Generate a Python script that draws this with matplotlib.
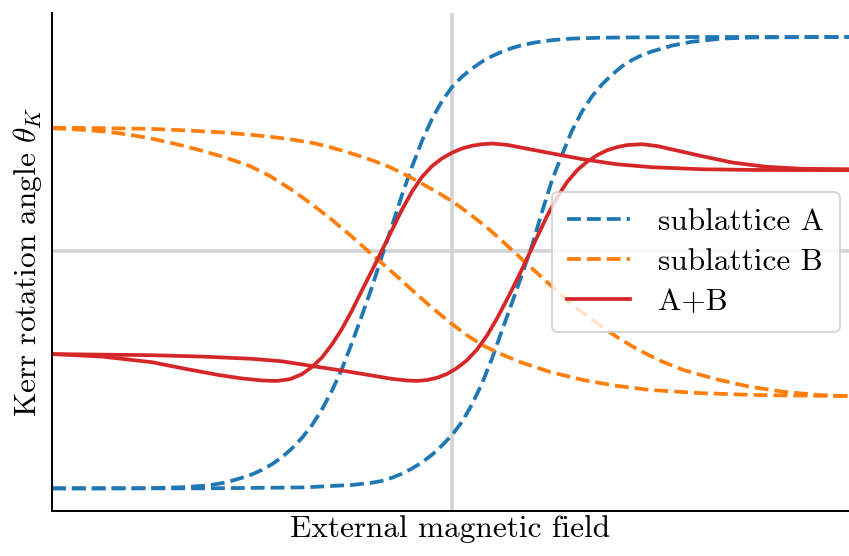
import matplotlib
matplotlib.use("Agg")
import matplotlib.pyplot as plt

plt.rcParams["font.family"] = ["cmr10", "DejaVu Serif"]
plt.rcParams["mathtext.fontset"] = "cm"
plt.rcParams["axes.formatter.use_mathtext"] = True

# Sublattice A, down-sweep branch (switches at negative field)
xA_down = [-4.0, -3.5, -3.0, -2.7, -2.5, -2.4, -2.3, -2.2, -2.1, -2.0,
           -1.9, -1.8, -1.7, -1.6, -1.5, -1.4, -1.3, -1.2, -1.1, -1.0,
           -0.9, -0.8, -0.7, -0.6, -0.5, -0.4, -0.3, -0.2, -0.1, 0.0,
           0.1, 0.2, 0.3, 0.4, 0.5, 0.6, 0.7, 0.85, 1.0, 1.2,
           1.5, 2.0, 2.5, 3.97]
yA_down = [-1.000, -1.000, -0.999, -0.995, -0.989, -0.984, -0.977, -0.966, -0.953, -0.938,
           -0.918, -0.893, -0.862, -0.823, -0.776, -0.720, -0.650, -0.567, -0.470, -0.355,
           -0.233, -0.108, 0.030, 0.163, 0.300, 0.425, 0.540, 0.637, 0.716, 0.778,
           0.824, 0.860, 0.891, 0.915, 0.935, 0.951, 0.964, 0.977, 0.986, 0.993,
           0.997, 0.999, 1.000, 1.000]

# Sublattice A, up-sweep branch (switches at positive field)
xA_up = [-4.0, -2.5, -1.5, -1.0, -0.8, -0.7, -0.6, -0.5, -0.4, -0.3,
         -0.2, -0.1, 0.0, 0.1, 0.2, 0.3, 0.4, 0.5, 0.6, 0.7,
         0.8, 0.9, 1.0, 1.1, 1.2, 1.3, 1.4, 1.5, 1.6, 1.7,
         1.8, 1.9, 2.0, 2.2, 2.4, 2.7, 3.0, 3.97]
yA_up = [-1.000, -1.000, -0.996, -0.985, -0.975, -0.967, -0.953, -0.935, -0.912, -0.885,
         -0.851, -0.810, -0.764, -0.705, -0.628, -0.535, -0.425, -0.300, -0.178, -0.052,
         0.075, 0.225, 0.365, 0.478, 0.585, 0.670, 0.737, 0.790, 0.833, 0.870,
         0.898, 0.920, 0.936, 0.962, 0.979, 0.993, 0.998, 1.000]

# Sublattice B, down-sweep branch
xB_down = [-4.00, -3.67, -3.50, -3.32, -3.20, -3.02, -2.85, -2.67, -2.50, -2.32,
           -2.20, -2.02, -1.82, -1.62, -1.42, -1.22, -1.02, -0.82, -0.62, -0.42,
           -0.22, -0.02, 0.15, 0.31, 0.48, 0.68, 0.98, 1.31, 1.65, 1.98,
           2.48, 3.08, 3.97]
yB_down = [0.596, 0.588, 0.582, 0.573, 0.565, 0.551, 0.535, 0.516, 0.496, 0.473,
           0.456, 0.428, 0.384, 0.328, 0.265, 0.197, 0.123, 0.044, -0.033, -0.113,
           -0.192, -0.265, -0.322, -0.367, -0.403, -0.440, -0.484, -0.520, -0.546, -0.564,
           -0.578, -0.587, -0.591]

# Sublattice B, up-sweep branch
xB_up = [-4.00, -3.50, -3.02, -2.70, -2.32, -2.02, -1.80, -1.62, -1.40, -1.22,
         -1.07, -0.92, -0.77, -0.62, -0.52, -0.42, -0.32, -0.22, -0.11, 0.00,
         0.09, 0.18, 0.28, 0.38, 0.48, 0.58, 0.66, 0.73, 0.88, 1.05,
         1.25, 1.45, 1.65, 1.85, 2.08, 2.31, 2.64, 2.98, 3.33, 3.68,
         3.97]
yB_up = [0.598, 0.596, 0.593, 0.587, 0.578, 0.567, 0.557, 0.547, 0.531, 0.512,
         0.493, 0.472, 0.449, 0.423, 0.402, 0.379, 0.355, 0.330, 0.302, 0.272,
         0.244, 0.215, 0.180, 0.144, 0.105, 0.064, 0.032, 0.002, -0.057, -0.126,
         -0.202, -0.268, -0.330, -0.383, -0.434, -0.475, -0.516, -0.550, -0.573, -0.587,
         -0.591]

# A+B, down-sweep branch
xS_down = [-4.00, -3.50, -3.00, -2.67, -2.33, -2.10, -1.90, -1.75, -1.62, -1.50,
           -1.40, -1.30, -1.20, -1.10, -1.00, -0.90, -0.80, -0.70, -0.60, -0.50,
           -0.40, -0.30, -0.20, -0.10, 0.00, 0.10, 0.20, 0.30, 0.40, 0.55,
           0.75, 1.00, 1.30, 1.65, 2.00, 2.50, 3.00, 3.97]
yS_down = [-0.405, -0.416, -0.441, -0.470, -0.498, -0.513, -0.522, -0.524, -0.516, -0.494,
           -0.462, -0.420, -0.362, -0.293, -0.212, -0.122, -0.035, 0.055, 0.145, 0.235,
           0.315, 0.380, 0.428, 0.462, 0.487, 0.506, 0.518, 0.525, 0.528, 0.522,
           0.505, 0.484, 0.459, 0.436, 0.423, 0.414, 0.411, 0.410]

# A+B, up-sweep branch
xS_up = [-4.00, -3.00, -2.50, -2.00, -1.70, -1.40, -1.10, -0.80, -0.60, -0.45,
         -0.35, -0.25, -0.15, -0.05, 0.05, 0.15, 0.25, 0.35, 0.45, 0.55,
         0.65, 0.75, 0.85, 0.95, 1.05, 1.15, 1.25, 1.35, 1.45, 1.55,
         1.65, 1.75, 1.90, 2.05, 2.30, 2.50, 2.80, 3.14, 3.50, 3.97]
yS_up = [-0.405, -0.410, -0.416, -0.426, -0.437, -0.458, -0.478, -0.500, -0.515, -0.522,
         -0.524, -0.520, -0.510, -0.493, -0.467, -0.432, -0.385, -0.323, -0.247, -0.163,
         -0.075, 0.018, 0.113, 0.206, 0.289, 0.357, 0.409, 0.447, 0.476, 0.498,
         0.512, 0.521, 0.525, 0.517, 0.492, 0.472, 0.444, 0.425, 0.416, 0.414]

labels = ["sublattice A", "sublattice B", "A+B"]
colors = ["#1f77b4", "#ff7f0e", "#d62728"]

fig = plt.figure(figsize=(8.49, 5.56), dpi=100)
ax = fig.add_axes([52 / 849, 45.3 / 556, 797 / 849, 497.4 / 556])

ax.axhline(0.052, color="lightgray", lw=2.6, zorder=0)
ax.axvline(0.0, color="lightgray", lw=2.6, zorder=0)

lw = 2.7
ax.plot(xA_down, yA_down, ls="--", color=colors[0], lw=lw, label=labels[0])
ax.plot(xA_up, yA_up, ls="--", color=colors[0], lw=lw)
ax.plot(xB_down, yB_down, ls="--", color=colors[1], lw=lw, label=labels[1])
ax.plot(xB_up, yB_up, ls="--", color=colors[1], lw=lw)
ax.plot(xS_down, yS_down, ls="-", color=colors[2], lw=lw, label=labels[2])
ax.plot(xS_up, yS_up, ls="-", color=colors[2], lw=lw)

ax.set_xlim(-4.0, 3.97)
ax.set_ylim(-1.099, 1.105)
ax.set_xticks([])
ax.set_yticks([])
for s in ["top", "right"]:
    ax.spines[s].set_visible(False)
for s in ["left", "bottom"]:
    ax.spines[s].set_linewidth(1.4)

ax.set_xlabel("External magnetic field", fontsize=22.5, labelpad=3)
ax.set_ylabel(r"Kerr rotation angle $\theta_K$", fontsize=22.5, labelpad=6)

leg = ax.legend(loc="center right", fontsize=22.5, handlelength=2.0,
                borderaxespad=0.3, labelspacing=0.4, handletextpad=0.9,
                borderpad=0.5, fancybox=True)
leg.get_frame().set_edgecolor("#cccccc")
leg.get_frame().set_linewidth(1.4)

fig.savefig("out.png", dpi=100)
